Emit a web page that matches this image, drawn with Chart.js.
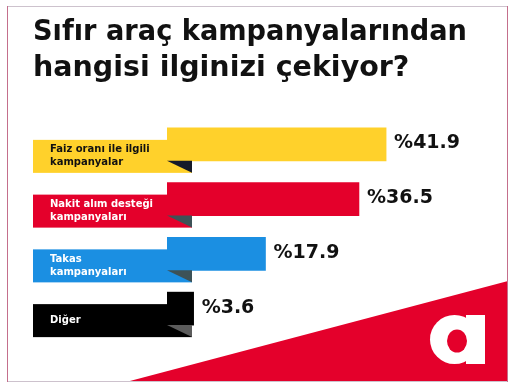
<!DOCTYPE html>
<html>
<head>
<meta charset="utf-8">
<script src="https://cdn.jsdelivr.net/npm/chart.js@4/dist/chart.umd.min.js"></script>
<style>
  html, body { margin: 0; padding: 0; background: #ffffff; }
  #wrap { width: 515px; height: 388px; }
</style>
</head>
<body>
<div id="wrap"><canvas id="c" width="515" height="388"></canvas></div>
<script>
const titleLines = ['Sıfır araç kampanyalarından', 'hangisi ilginizi çekiyor?'];
const categories = [
  ['Faiz oranı ile ilgili', 'kampanyalar'],
  ['Nakit alım desteği', 'kampanyaları'],
  ['Takas', 'kampanyaları'],
  ['Diğer']
];
const values = [41.9, 36.5, 17.9, 3.6];
const valueLabels = ['%41.9', '%36.5', '%17.9', '%3.6'];
const barColors = ['#ffd12b', '#e4002b', '#1b8fe2', '#000000'];
const foldColors = ['#151a2a', '#3d5257', '#3d5257', '#5c5c5c'];
const labelColors = ['#111111', '#ffffff', '#ffffff', '#ffffff'];

const TITLE_FONT = '"DejaVu Sans", sans-serif';
const LABEL_FONT = '"DejaVu Sans", sans-serif';

const decor = {
  id: 'decor',
  beforeDraw(chart) {
    const ctx = chart.ctx;
    ctx.save();
    ctx.fillStyle = '#ffffff';
    ctx.fillRect(0, 0, chart.width, chart.height);
    ctx.fillStyle = '#e4002b';
    ctx.beginPath();
    ctx.moveTo(128, 381.5);
    ctx.lineTo(508, 281);
    ctx.lineTo(508, 381.5);
    ctx.closePath();
    ctx.fill();
    ctx.fillStyle = '#ffffff';
    ctx.beginPath();
    ctx.ellipse(454.5, 339.5, 24.5, 24.5, 0, 0, Math.PI * 2);
    ctx.fill();
    ctx.fillRect(466, 315, 19, 49);
    ctx.fillStyle = '#e4002b';
    ctx.beginPath();
    ctx.ellipse(457, 341, 10, 11.5, 0, 0, Math.PI * 2);
    ctx.fill();
    ctx.lineWidth = 1;
    ctx.strokeStyle = '#cdc2cd';
    ctx.beginPath();
    ctx.moveTo(7, 6.5); ctx.lineTo(507, 6.5);
    ctx.moveTo(7, 381.5); ctx.lineTo(507, 381.5);
    ctx.stroke();
    ctx.strokeStyle = '#c46f8c';
    ctx.beginPath();
    ctx.moveTo(7.5, 6); ctx.lineTo(7.5, 382);
    ctx.moveTo(507.5, 6); ctx.lineTo(507.5, 382);
    ctx.stroke();
    ctx.restore();
  },
  afterDatasetsDraw(chart) {
    const ctx = chart.ctx;
    const meta = chart.getDatasetMeta(0);
    ctx.save();
    meta.data.forEach((bar, i) => {
      const top = bar.y - bar.height / 2;
      const bot = bar.y + bar.height / 2;
      const fTop = top + 12, fBot = bot + 12;
      const fL = 33, fR = bar.base + 25;
      ctx.fillStyle = barColors[i];
      ctx.fillRect(fL, fTop, fR - fL, fBot - fTop);
      ctx.fillStyle = foldColors[i];
      ctx.beginPath();
      ctx.moveTo(bar.base, bot);
      ctx.lineTo(fR, bot);
      ctx.lineTo(fR, fBot);
      ctx.closePath();
      ctx.fill();
      const lines = chart.data.labels[i];
      ctx.fillStyle = labelColors[i];
      ctx.font = '700 10px ' + LABEL_FONT;
      ctx.textBaseline = 'middle';
      ctx.textAlign = 'left';
      const lh = 13;
      const cy = (fTop + fBot) / 2;
      lines.forEach((t, k) => {
        ctx.fillText(t, 50, cy + (k - (lines.length - 1) / 2) * lh);
      });
      ctx.fillStyle = '#111111';
      ctx.font = '700 19px ' + TITLE_FONT;
      ctx.fillText(valueLabels[i], bar.x + 8, bar.y - 1);
    });
    ctx.restore();
  }
};

new Chart(document.getElementById('c'), {
  type: 'bar',
  data: {
    labels: categories,
    datasets: [{
      data: values,
      backgroundColor: barColors,
      borderWidth: 0,
      barThickness: 33,
      base: -1.7
    }]
  },
  options: {
    indexAxis: 'y',
    responsive: false,
    animation: false,
    layout: { padding: { left: 33, right: 48, top: 0, bottom: 52 } },
    plugins: {
      legend: { display: false },
      tooltip: { enabled: false },
      title: {
        display: true,
        text: titleLines,
        align: 'start',
        color: '#111111',
        font: { family: TITLE_FONT, size: 28.5, weight: '700', lineHeight: 1.263 },
        padding: { top: 15, bottom: 30 }
      }
    },
    scales: {
      x: { display: false, min: -1.7, max: 58 },
      y: {
        display: true,
        grid: { display: false },
        border: { display: false },
        ticks: { display: false },
        afterFit(s) { s.width = 134; }
      }
    }
  },
  plugins: [decor]
});
</script>
</body>
</html>
